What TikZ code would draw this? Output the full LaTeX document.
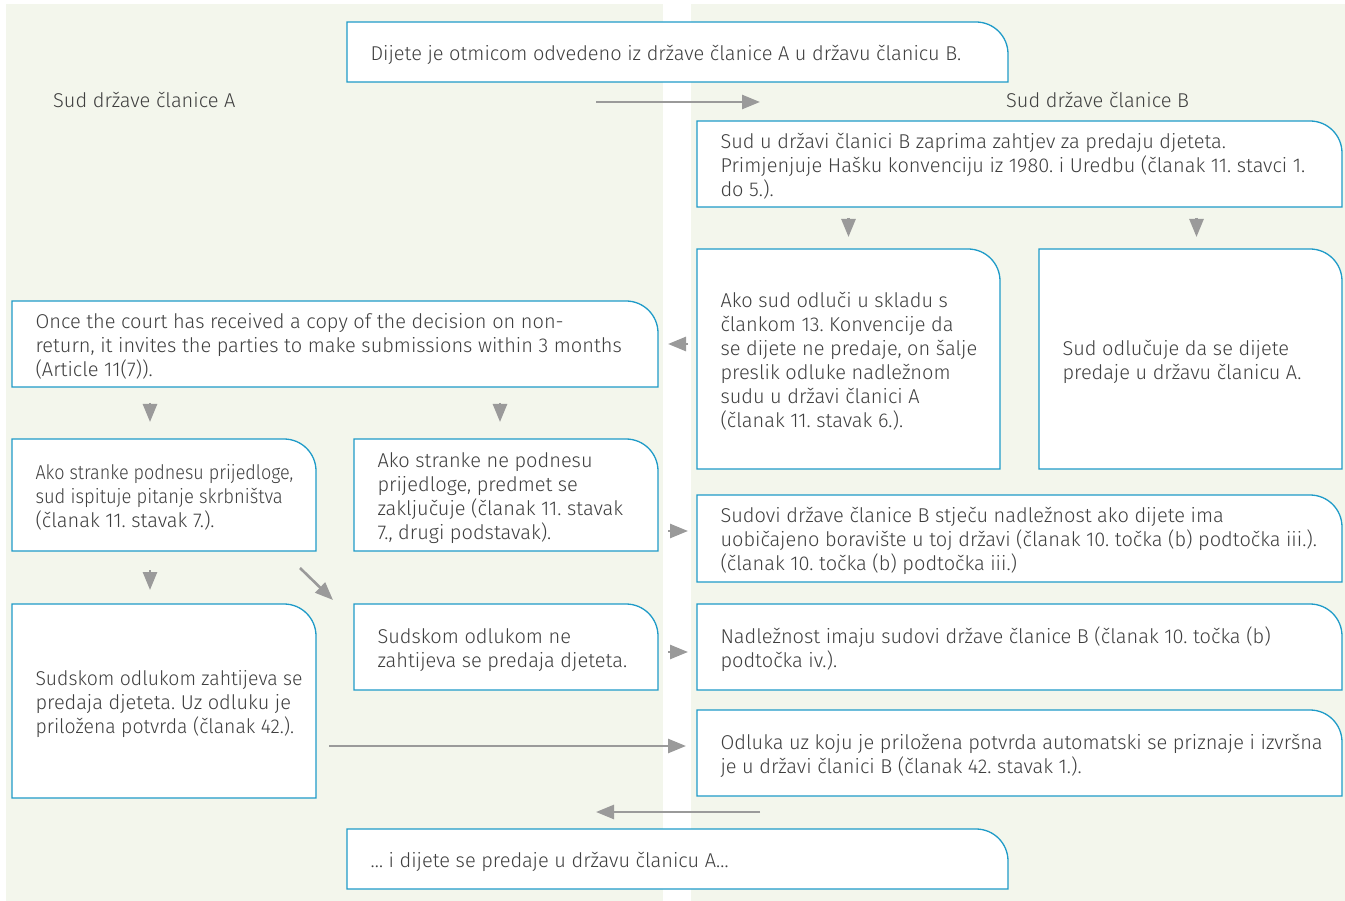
\documentclass[tikz,border=0pt]{standalone}
\usepackage{fontspec}
\setmainfont{Fira Sans Light}
\usetikzlibrary{arrows.meta,calc}
\frenchspacing
\definecolor{bg}{HTML}{F3F6EC}
\definecolor{edge}{HTML}{1F9BC8}
\definecolor{txt}{HTML}{3F3F3F}
\definecolor{arrc}{HTML}{9A9A9A}
\tikzset{
  box/.style={anchor=north west, inner sep=0pt, outer sep=0pt},
  boxtext/.style={anchor=west, inner sep=0pt, outer sep=0pt,
    text=txt, font=\fontsize{20}{24}\selectfont},
  outline/.style={draw=edge, line width=1.3pt, fill=white},
  lbl/.style={anchor=west, inner sep=0pt, text=txt, font=\fontsize{20}{24}\selectfont},
  arr/.style={draw=arrc, line width=2.6pt, -{Triangle[length=18pt,width=14pt]}},
}
\newcommand{\mkbox}[6]{%
  \pgfmathsetmacro{\bw}{#4-#2}%
  \pgfmathsetmacro{\bh}{#5-#3}%
  \path[outline] (#2,#5) -- (#2,#3) -- (#4-32,#3) .. controls (#4-14.3,#3) and (#4,#3+14.3) .. (#4,#3+32) -- (#4,#5) -- cycle;
  \node[box, minimum width=\bw pt, minimum height=\bh pt] (#1) at (#2,#3) {};%
  \node[boxtext] (#1-t) at ([xshift=23.5pt,yshift=-3.5pt]#1.west) {\begin{tabular}{@{}l@{}}#6\end{tabular}};%
}
\begin{document}
\begin{tikzpicture}[x=1pt,y=-1pt]
\useasboundingbox (0,0) rectangle (1345,901);
\fill[bg] (6,4) rectangle (663,901);
\fill[bg] (691,4) rectangle (1345,901);

\mkbox{b1}{347}{22}{1008}{82}{Dijete je otmicom odvedeno iz države članice A u državu članicu B.}
\mkbox{b2}{697}{121}{1342}{207}{Sud u državi članici B zaprima zahtjev za predaju djeteta.\\Primjenjuje Hašku konvenciju iz 1980. i Uredbu (članak 11. stavci 1.\\do 5.).}
\mkbox{b3}{697}{249}{1000}{469}{Ako sud odluči u skladu s\\člankom 13. Konvencije da\\se dijete ne predaje, on šalje\\preslik odluke nadležnom\\sudu u državi članici A\\(članak 11. stavak 6.).}
\mkbox{b4}{1039}{249}{1342}{469}{Sud odlučuje da se dijete\\predaje u državu članicu A.}
\mkbox{b5}{12}{301}{658}{387}{Once the court has received a copy of the decision on non-\\return, it invites the parties to make submissions within 3 months\\(Article 11(7)).}
\mkbox{b6}{12}{439}{316}{551}{\scalebox{0.9}[1]{Ako stranke podnesu prijedloge,}\\\scalebox{0.92}[1]{sud ispituje pitanje skrbništva}\\(članak 11. stavak 7.).}
\mkbox{b7}{354}{439}{658}{551}{Ako stranke ne podnesu\\prijedloge, predmet se\\zaključuje (članak 11. stavak\\7., drugi podstavak).}
\mkbox{b8}{697}{495}{1342}{582}{Sudovi države članice B stječu nadležnost ako dijete ima\\uobičajeno boravište u toj državi (članak 10. točka (b) podtočka iii.).\\(članak 10. točka (b) podtočka iii.)}
\mkbox{b9}{12}{604}{316}{798}{\scalebox{0.97}[1]{Sudskom odlukom zahtijeva se}\\predaja djeteta. Uz odluku je\\\scalebox{0.97}[1]{priložena potvrda (članak 42.).}}
\mkbox{b10}{354}{604}{658}{690}{Sudskom odlukom ne\\zahtijeva se predaja djeteta.}
\mkbox{b11}{697}{604}{1342}{690}{Nadležnost imaju sudovi države članice B (članak 10. točka (b)\\podtočka iv.).}
\mkbox{b12}{697}{710}{1342}{796}{Odluka uz koju je priložena potvrda automatski se priznaje i izvršna\\je u državi članici B (članak 42. stavak 1.).}
\mkbox{b13}{347}{829}{1008}{889}{… i dijete se predaje u državu članicu A…}

\node[lbl] (la) at (53,100) {Sud države članice A};
\node[lbl] (lb) at (1006,100) {Sud države članice B};

% connectors
\coordinate (t1) at ($(b1.south west)+(249,20)$);
\coordinate (t2) at ($(b1.south west)+(413,20)$);
\draw[arr] (t1) -- (t2);
\draw[arr, shorten <=11pt, shorten >=12pt] (b2.south -| b3.north) -- (b3.north);
\draw[arr, shorten <=11pt, shorten >=12pt] ([xshift=6pt]b2.south -| b4.north) -- ([xshift=6pt]b4.north);
\draw[arr, shorten <=9pt, shorten >=10pt] (b5.east -| b3.west) -- (b5.east);
\draw[arr, shorten <=16pt, shorten >=17pt] ([xshift=-14pt]b5.south -| b6.north) -- ([xshift=-14pt]b6.north);
\draw[arr, shorten <=16pt, shorten >=17pt] ([xshift=-6pt]b5.south -| b7.north) -- ([xshift=-6pt]b7.north);
\draw[arr, shorten <=19pt, shorten >=14pt] ([xshift=-14pt]b6.south) -- ([xshift=-14pt]b9.north);
\coordinate (d1) at ($(b6.south east)+(-16,17)$);
\coordinate (d2) at ($(b10.north west)+(-21,-4)$);
\draw[arr] (d1) -- (d2);
\draw[arr, shorten <=10pt, shorten >=9pt] ([yshift=-36pt]b7.east) -- ([yshift=-36pt]b7.east -| b8.west);
\draw[arr, shorten <=10pt, shorten >=9pt] ([yshift=-5pt]b10.east) -- ([yshift=-5pt]b10.east -| b11.west);
\draw[arr, shorten <=13pt, shorten >=11pt] ([yshift=-45pt]b9.east) -- ([yshift=-45pt]b9.east -| b12.west);
\coordinate (u1) at ($(b13.north west)+(413,-17)$);
\coordinate (u2) at ($(b13.north west)+(249,-17)$);
\draw[arr] (u1) -- (u2);
\end{tikzpicture}
\end{document}
